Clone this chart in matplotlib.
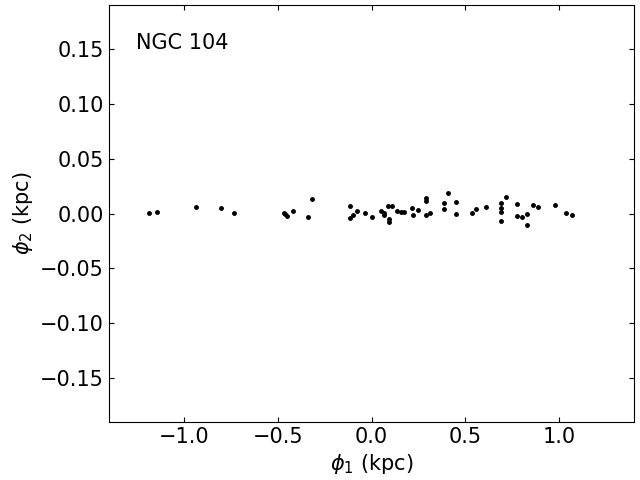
import matplotlib
matplotlib.use('Agg')
import matplotlib.pyplot as plt

# star positions in the stream frame (kpc)
phi1 = [-1.184, -1.141, -0.933, -0.800, -0.731, -0.469, -0.460, -0.453, -0.421, -0.336,
        -0.315, -0.114, -0.114, -0.099, -0.075, -0.034, 0.005, 0.048, 0.068, 0.069,
        0.087, 0.093, 0.093, 0.110, 0.135, 0.155, 0.174, 0.217, 0.219, 0.247,
        0.288, 0.288, 0.288, 0.309, 0.384, 0.384, 0.405, 0.452, 0.452, 0.533,
        0.555, 0.608, 0.688, 0.688, 0.688, 0.688, 0.715, 0.773, 0.773, 0.800,
        0.829, 0.827, 0.859, 0.885, 0.976, 1.035, 1.067]
phi2 = [0.0006, 0.0015, 0.0061, 0.0052, 0.0006, 0.0006, -0.0006, -0.0021, 0.0025, -0.0030,
        0.0134, 0.0073, -0.0039, -0.0012, 0.0025, 0.0006, -0.0030, 0.0025, 0.0006, -0.0012,
        0.0073, -0.0048, -0.0076, 0.0066, 0.0025, 0.0018, 0.0015, 0.0052, -0.0012, 0.0034,
        0.0143, 0.0116, -0.0012, 0.0006, 0.0097, 0.0043, 0.0189, 0.0107, 0.0000, 0.0009,
        0.0043, 0.0061, 0.0097, 0.0052, 0.0015, -0.0066, 0.0152, 0.0088, -0.0018, -0.0030,
        0.0000, -0.0103, 0.0079, 0.0061, 0.0079, 0.0006, -0.0012]
cluster_name = 'NGC 104'

fig = plt.figure(figsize=(6.4, 4.8), dpi=100)
ax = fig.add_subplot(111)
fig.subplots_adjust(left=0.170, right=0.991, bottom=0.121, top=0.989)

ax.plot(phi1, phi2, 'k.', markersize=5)

ax.set_xlim(-1.4, 1.4)
ax.set_ylim(-0.19, 0.19)
ax.set_xticks([-1.0, -0.5, 0.0, 0.5, 1.0])
ax.set_yticks([-0.15, -0.10, -0.05, 0.0, 0.05, 0.10, 0.15])
ax.tick_params(direction='in', top=True, right=True, labelsize=15)
ax.set_xlabel(r'$\phi_1$ (kpc)', fontsize=15)
ax.set_ylabel(r'$\phi_2$ (kpc)', fontsize=15)
ax.text(0.051, 0.894, cluster_name, transform=ax.transAxes, fontsize=15,
        ha='left', va='baseline')

fig.savefig('out.png', dpi=100)
